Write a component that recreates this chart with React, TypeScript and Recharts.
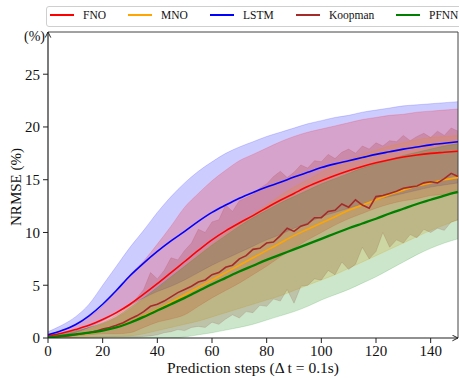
import React from "react";
import {
  ComposedChart,
  Area,
  Line,
  XAxis,
  YAxis,
  ReferenceLine,
} from "recharts";

// prediction steps (every 5 steps for the smooth curves)
const steps = [0, 5, 10, 15, 20, 25, 30, 35, 40, 45, 50, 55, 60, 65, 70, 75, 80, 85, 90, 95, 100, 105, 110, 115, 120, 125, 130, 135, 140, 145, 150];

const fnoMean = [0.2, 0.45, 0.8, 1.2, 1.75, 2.4, 3.2, 4.15, 5.15, 6.2, 7.25, 8.3, 9.3, 10.15, 10.9, 11.6, 12.35, 13.05, 13.7, 14.35, 14.9, 15.4, 15.85, 16.25, 16.6, 16.9, 17.15, 17.35, 17.5, 17.6, 17.7];
const fnoLow = [0.05, 0.1, 0.2, 0.3, 0.4, 0.4, 0.5, 1.0, 1.5, 1.8, 2.2, 3.0, 3.8, 4.5, 5.2, 6.0, 6.8, 7.7, 8.5, 9.3, 10.0, 10.7, 11.3, 11.8, 12.3, 12.7, 13.0, 13.2, 13.5, 13.6, 13.7];
const fnoHigh = [0.3, 0.7, 1.3, 2.0, 3.0, 4.5, 6.0, 7.3, 8.9, 10.6, 12.4, 13.7, 14.9, 15.9, 16.8, 17.4, 18.0, 18.6, 19.1, 19.5, 19.8, 20.1, 20.4, 20.7, 20.9, 21.1, 21.2, 21.4, 21.5, 21.6, 21.7];

const mnoMean = [0.05, 0.15, 0.3, 0.45, 0.7, 1.05, 1.5, 2.1, 2.7, 3.4, 4.1, 4.8, 5.5, 6.2, 6.9, 7.6, 8.3, 9.0, 9.7, 10.3, 10.9, 11.5, 12.1, 12.6, 13.1, 13.6, 14.0, 14.4, 14.7, 15.0, 15.2];
const mnoLow = [0, 0.02, 0.05, 0.08, 0.1, 0.15, 0.2, 0.4, 0.7, 1.0, 1.3, 1.6, 2.0, 2.4, 2.8, 3.2, 3.6, 4.0, 4.5, 5.0, 5.5, 6.0, 6.6, 7.2, 7.8, 8.4, 9.0, 9.6, 10.2, 10.7, 11.2];
const mnoHigh = [0.1, 0.3, 0.55, 0.85, 1.3, 1.9, 2.7, 3.7, 4.6, 5.7, 6.8, 7.9, 8.9, 9.9, 10.8, 11.7, 12.6, 13.5, 14.3, 15.0, 15.7, 16.3, 16.9, 17.4, 17.8, 18.2, 18.5, 18.8, 19.0, 19.1, 19.2];

const lstmMean = [0.3, 0.7, 1.25, 2.1, 3.2, 4.5, 5.9, 7.1, 8.2, 9.2, 10.1, 11.05, 11.9, 12.6, 13.25, 13.8, 14.3, 14.75, 15.25, 15.7, 16.15, 16.5, 16.8, 17.1, 17.4, 17.65, 17.9, 18.1, 18.3, 18.45, 18.6];
const lstmLow = [0, 0.2, 0.5, 1.0, 1.6, 2.3, 3.1, 3.8, 4.4, 4.9, 5.5, 6.2, 6.9, 7.5, 8.1, 8.7, 9.3, 9.8, 10.4, 10.9, 11.5, 11.9, 12.3, 12.7, 13.1, 13.4, 13.7, 14.0, 14.3, 14.5, 14.7];
const lstmHigh = [0.6, 1.2, 2.0, 3.2, 5.0, 6.8, 8.6, 10.2, 11.9, 13.4, 14.7, 15.8, 16.7, 17.5, 18.1, 18.6, 19.1, 19.5, 19.9, 20.3, 20.6, 20.9, 21.1, 21.4, 21.6, 21.8, 22.0, 22.1, 22.2, 22.3, 22.4];

const pfnnMean = [0.05, 0.2, 0.35, 0.5, 0.7, 1.0, 1.45, 2.0, 2.6, 3.2, 3.8, 4.45, 5.1, 5.7, 6.3, 6.85, 7.4, 7.9, 8.4, 8.9, 9.4, 9.9, 10.4, 10.85, 11.3, 11.8, 12.25, 12.7, 13.1, 13.5, 13.85];
const pfnnLow = [0, 0, 0, 0, 0, 0, 0, 0, 0, 0, 0.1, 0.3, 0.5, 0.75, 1.0, 1.3, 1.7, 2.1, 2.5, 3.0, 3.6, 4.1, 4.6, 5.2, 5.8, 6.5, 7.2, 7.9, 8.5, 9.0, 9.4];
const pfnnHigh = [0.1, 0.4, 0.7, 1.0, 1.4, 2.0, 2.9, 3.8, 4.8, 5.8, 6.8, 7.8, 8.8, 9.7, 10.6, 11.4, 12.1, 12.8, 13.4, 14.0, 14.6, 15.1, 15.6, 16.1, 16.5, 16.9, 17.3, 17.6, 17.9, 18.2, 18.4];

// Koopman is noisy, read every 2.5 steps
const koopSteps = [0, 2.5, 5, 7.5, 10, 12.5, 15, 17.5, 20, 22.5, 25, 27.5, 30, 32.5, 35, 37.5, 40, 42.5, 45, 47.5, 50, 52.5, 55, 57.5, 60, 62.5, 65, 67.5, 70, 72.5, 75, 77.5, 80, 82.5, 85, 87.5, 90, 92.5, 95, 97.5, 100, 102.5, 105, 107.5, 110, 112.5, 115, 117.5, 120, 122.5, 125, 127.5, 130, 132.5, 135, 137.5, 140, 142.5, 145, 147.5, 150];
const koopMean = [0.05, 0.1, 0.15, 0.2, 0.3, 0.4, 0.5, 0.65, 0.85, 1.0, 1.2, 1.45, 1.8, 2.1, 2.5, 3.0, 3.2, 3.5, 3.9, 4.3, 4.6, 4.9, 5.3, 5.5, 6.0, 6.2, 6.7, 6.9, 7.5, 7.8, 8.4, 8.5, 9.0, 9.1, 9.7, 10.4, 10.1, 10.6, 10.8, 11.4, 11.4, 12.0, 12.1, 12.7, 12.4, 13.1, 12.6, 12.3, 13.4, 13.5, 13.7, 13.9, 14.2, 14.3, 14.4, 14.7, 14.8, 14.7, 15.1, 15.6, 15.3];
const koopLow = [0, 0.02, 0.05, 0.05, 0.05, 0.06, 0.07, 0.08, 0.08, 0.09, 0.1, 0.1, 0.1, 0.1, 0.15, 0.2, 0.3, 0.5, 0.6, 0.8, 0.7, 1.0, 1.1, 1.0, 1.5, 1.3, 1.8, 2.2, 1.9, 2.5, 2.4, 3.1, 3.0, 3.7, 3.5, 4.6, 3.3, 4.9, 5.0, 5.6, 5.5, 6.4, 6.0, 7.2, 6.5, 7.0, 8.6, 7.5, 8.2, 10.0, 8.6, 9.3, 9.0, 9.8, 9.5, 10.3, 10.0, 10.4, 10.2, 11.0, 11.2];
const koopHigh = [0.1, 0.2, 0.3, 0.45, 0.6, 0.8, 1.0, 1.2, 1.5, 1.8, 2.2, 2.6, 3.1, 3.8, 4.6, 6.2, 5.6, 6.4, 7.6, 7.4, 8.3, 9.0, 10.3, 10.0, 11.0, 11.2, 12.6, 12.0, 13.0, 13.3, 13.6, 14.2, 14.6, 15.3, 15.8, 15.2, 15.7, 16.4, 16.1, 16.8, 16.7, 17.4, 17.0, 17.6, 17.9, 17.5, 18.2, 17.9, 18.5, 18.2, 18.7, 18.6, 19.2, 18.7, 19.1, 19.4, 19.0, 19.6, 19.2, 19.9, 19.6];

const xTicks = [0, 20, 40, 60, 80, 100, 120, 140];
const yTicks = [0, 5, 10, 15, 20, 25];

const legendItems = [
  { name: "FNO", color: "#ff0000", lineX: 50, textX: 83, width: 1.8 },
  { name: "MNO", color: "#ffa500", lineX: 128, textX: 161, width: 1.8 },
  { name: "LSTM", color: "#0000ff", lineX: 210, textX: 243, width: 1.8 },
  { name: "Koopman", color: "#a52a2a", lineX: 296, textX: 329, width: 1.8 },
  { name: "PFNN", color: "#008000", lineX: 396, textX: 429, width: 2.6 },
];

const data = steps.map((s, i) => ({
  step: s,
  fno: fnoMean[i],
  fnoBand: [fnoLow[i], fnoHigh[i]],
  mno: mnoMean[i],
  mnoBand: [mnoLow[i], mnoHigh[i]],
  lstm: lstmMean[i],
  lstmBand: [lstmLow[i], lstmHigh[i]],
  pfnn: pfnnMean[i],
  pfnnBand: [pfnnLow[i], pfnnHigh[i]],
}));

const koopData = koopSteps.map((s, i) => ({
  step: s,
  koop: koopMean[i],
  koopBand: [koopLow[i], koopHigh[i]],
}));

const font = '"Liberation Serif", Tinos, "Times New Roman", Times, serif';

export default function App() {
  return (
    <div style={{ position: "absolute", left: 0, top: 0, width: 459, height: 379, fontFamily: font, background: "#fff" }}>
      <ComposedChart width={459} height={379} data={data} margin={{ top: 32, right: 1, bottom: 11, left: 8 }} style={{ fontFamily: font }}>
        <defs>
          <marker id="axisArrow" viewBox="0 0 10 10" refX="9" refY="5" markerWidth="7" markerHeight="7" orient="auto-start-reverse" markerUnits="userSpaceOnUse">
            <path d="M1,1 L9,5 L1,9" fill="none" stroke="#222" strokeWidth={1.4} />
          </marker>
        </defs>

        <XAxis
          dataKey="step"
          type="number"
          domain={[0, 150]}
          ticks={xTicks}
          height={30}
          tickSize={5}
          tickMargin={2}
          axisLine={{ stroke: "#222", strokeWidth: 1.2, markerEnd: "url(#axisArrow)" } as any}
          tickLine={{ stroke: "#222" }}
          tick={{ fill: "#111", fontSize: 15, fontFamily: font }}
        />
        <YAxis
          type="number"
          domain={[0, 29]}
          ticks={yTicks}
          width={40}
          tickSize={5}
          tickMargin={3}
          allowDataOverflow
          axisLine={{ stroke: "#222", strokeWidth: 1.2, markerStart: "url(#axisArrow)" } as any}
          tickLine={{ stroke: "#222" }}
          tick={{ fill: "#111", fontSize: 15, fontFamily: font }}
        />

        <ReferenceLine y={29} stroke="#444" strokeWidth={1} />
        <ReferenceLine x={150} stroke="#444" strokeWidth={1} />

        <Area type="monotone" dataKey="lstmBand" fill="#0000ff" fillOpacity={0.2} stroke="#0000ff" strokeOpacity={0.2} strokeWidth={0.8} isAnimationActive={false} />
        <Area type="monotone" dataKey="fnoBand" fill="#ff0000" fillOpacity={0.2} stroke="#ff0000" strokeOpacity={0.2} strokeWidth={0.8} isAnimationActive={false} />
        <Area type="monotone" dataKey="mnoBand" fill="#ffa500" fillOpacity={0.2} stroke="#ffa500" strokeOpacity={0.25} strokeWidth={0.8} isAnimationActive={false} />
        <Area data={koopData} type="linear" dataKey="koopBand" fill="#a52a2a" fillOpacity={0.2} stroke="#a52a2a" strokeOpacity={0.2} strokeWidth={0.8} isAnimationActive={false} />
        <Area type="monotone" dataKey="pfnnBand" fill="#008000" fillOpacity={0.2} stroke="#008000" strokeOpacity={0.2} strokeWidth={0.8} isAnimationActive={false} />

        <Line type="monotone" dataKey="fno" stroke="#ff0000" strokeWidth={1.6} dot={false} isAnimationActive={false} />
        <Line type="monotone" dataKey="mno" stroke="#ffa500" strokeWidth={1.6} dot={false} isAnimationActive={false} />
        <Line type="monotone" dataKey="lstm" stroke="#0000ff" strokeWidth={1.6} dot={false} isAnimationActive={false} />
        <Line data={koopData} type="linear" dataKey="koop" stroke="#a52a2a" strokeWidth={1.6} dot={false} isAnimationActive={false} />
        <Line type="monotone" dataKey="pfnn" stroke="#008000" strokeWidth={2.3} dot={false} isAnimationActive={false} />
      </ComposedChart>

      {/* legend box */}
      <div style={{ position: "absolute", left: 46, top: 6, width: 430, height: 19, border: "1px solid #cfcfcf", borderRadius: 3, background: "#fff" }} />
      {legendItems.map((it) => (
        <React.Fragment key={it.name}>
          <div style={{ position: "absolute", left: it.lineX, top: 15 - it.width / 2, width: 24, height: it.width, background: it.color }} />
          <div style={{ position: "absolute", left: it.textX, top: 8, fontSize: 11.5, lineHeight: "14px", color: "#111", whiteSpace: "nowrap" }}>{it.name}</div>
        </React.Fragment>
      ))}

      <div style={{ position: "absolute", left: 24, top: 29, fontSize: 14, lineHeight: "16px", color: "#111" }}>(%)</div>
      <div style={{ position: "absolute", left: 16, top: 187, width: 0, height: 0 }}>
        <div style={{ position: "absolute", left: 0, top: 0, transform: "translate(-50%, -50%) rotate(-90deg)", fontSize: 15, lineHeight: "16px", color: "#111", whiteSpace: "nowrap" }}>NRMSE (%)</div>
      </div>
      <div style={{ position: "absolute", left: 253, top: 360, transform: "translateX(-50%)", fontSize: 15.5, lineHeight: "16px", color: "#111", whiteSpace: "nowrap" }}>
        Prediction steps (Δ t = 0.1s)
      </div>
    </div>
  );
}
